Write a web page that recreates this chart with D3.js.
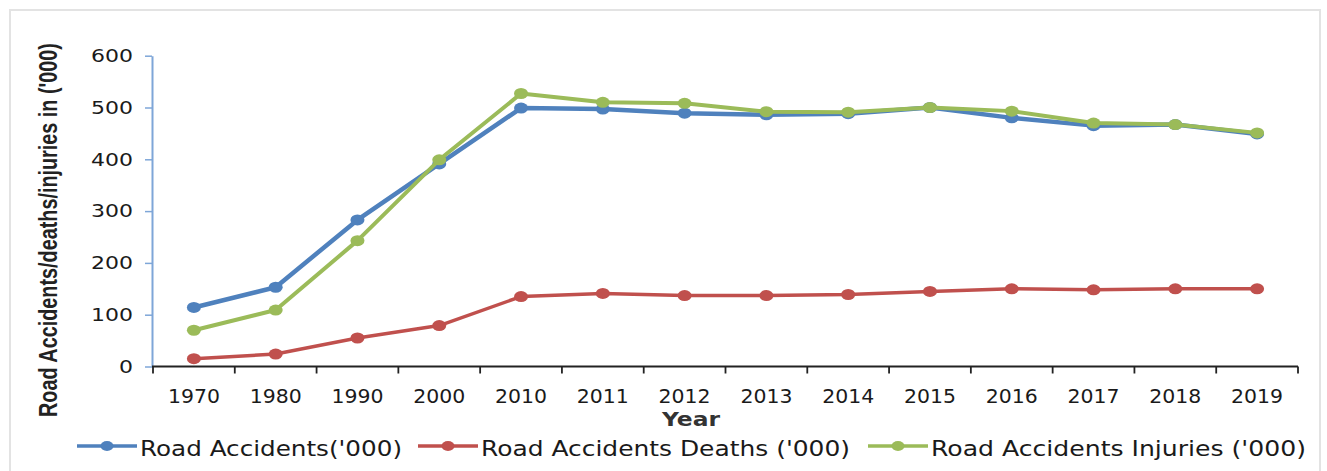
<!DOCTYPE html>
<html>
<head>
<meta charset="utf-8">
<script src="https://cdn.jsdelivr.net/npm/d3@7"></script>
<style>
  body { margin: 0; background: #fff; }
  svg { display: block; }
</style>
</head>
<body>
<svg id="chart" width="1327" height="471"></svg>
<script>
// chart values
const years = ["1970", "1980", "1990", "2000", "2010", "2011", "2012", "2013", "2014", "2015", "2016", "2017", "2018", "2019"];
const accidents = [114, 153, 283, 391, 499, 497, 489, 486, 488, 500, 480, 465, 467, 449];
const deaths = [15, 24, 55, 79, 135, 141, 137, 137, 139, 145, 150, 148, 150, 150];
const injuries = [70, 109, 243, 399, 527, 510, 508, 492, 491, 500, 493, 470, 467, 451];
const yTicks = [0, 100, 200, 300, 400, 500, 600];
const seriesNames = ["Road Accidents('000)", "Road Accidents Deaths ('000)", "Road Accidents Injuries ('000)"];

const colors = ["#4f81bd", "#c0504d", "#9bbb59"];
const widths = [4.5, 3.5, 4];

let svg = d3.select("#chart");

// light frame round the chart
svg.append("rect")
    .attr("x", 10).attr("y", 10)
    .attr("width", 1310).attr("height", 470)
    .attr("fill", "none").attr("stroke", "#e3e3e3").attr("stroke-width", 2);

let x = d3.scaleBand().domain(years).range([153, 1298]).padding(0);
let y = d3.scaleLinear().domain([0, 600]).range([366.5, 55.7]);

// y axis
let yg = svg.append("g").attr("transform", "translate(152,0)")
    .call(d3.axisLeft(y).tickValues(yTicks).tickSize(7).tickPadding(12).tickSizeOuter(0));
yg.select(".domain").attr("stroke", "#7ea6d8").attr("stroke-width", 2);
yg.selectAll(".tick line").attr("stroke", "#7ea6d8").attr("stroke-width", 1.5);
yg.selectAll(".tick text")
    .attr("font-family", "DejaVu Sans, Verdana, sans-serif")
    .attr("font-size", 18)
    .attr("fill", "#1a1a1a")
    .attr("x", -19)
    .attr("textLength", d => String(d).length * 14)
    .attr("lengthAdjust", "spacingAndGlyphs");

// x axis, ticks between the categories
let xg = svg.append("g").attr("transform", "translate(0,366.5)");
xg.append("line")
    .attr("x1", 152).attr("x2", 1298)
    .attr("stroke", "#222").attr("stroke-width", 1.8);
let bounds = years.map(d => x(d)).concat([x(years[years.length - 1]) + x.bandwidth()]);
xg.selectAll(".xtick").data(bounds).join("line")
    .attr("class", "xtick")
    .attr("x1", d => d).attr("x2", d => d)
    .attr("y1", 0).attr("y2", 7)
    .attr("stroke", "#222").attr("stroke-width", 1.8);
xg.selectAll(".xlab").data(years).join("text")
    .attr("class", "xlab")
    .attr("x", d => x(d) + x.bandwidth() / 2)
    .attr("y", 36)
    .attr("text-anchor", "middle")
    .attr("font-family", "DejaVu Sans, Verdana, sans-serif")
    .attr("font-size", 19)
    .attr("fill", "#1a1a1a")
    .attr("textLength", 52)
    .attr("lengthAdjust", "spacingAndGlyphs")
    .text(d => d);

// axis titles
svg.append("text")
    .attr("x", 691).attr("y", 426)
    .attr("text-anchor", "middle")
    .attr("font-family", "DejaVu Sans, Verdana, sans-serif")
    .attr("font-weight", "bold")
    .attr("font-size", 20)
    .attr("fill", "#333")
    .attr("textLength", 58)
    .attr("lengthAdjust", "spacingAndGlyphs")
    .text("Year");

// y title: squeeze along its length to fit the 374px it takes in the picture
let yTitle = svg.append("text")
    .attr("text-anchor", "middle")
    .attr("font-family", "Liberation Sans Narrow, Arial Narrow, Liberation Sans, sans-serif")
    .attr("font-weight", "bold")
    .attr("font-size", 26)
    .attr("fill", "#222")
    .text("Road Accidents/deaths/injuries in ('000)");
let natural = yTitle.node().getComputedTextLength();
yTitle.attr("transform", `translate(57,230) rotate(-90) scale(${374 / natural},1)`);

// lines and markers
let allSeries = [accidents, deaths, injuries];
let line = d3.line()
    .x((d, i) => x(years[i]) + x.bandwidth() / 2)
    .y(d => y(d));

allSeries.forEach((vals, k) => {
    let g = svg.append("g");
    g.append("path")
        .datum(vals)
        .attr("d", line)
        .attr("fill", "none")
        .attr("stroke", colors[k])
        .attr("stroke-width", widths[k])
        .attr("stroke-linejoin", "round");
    g.selectAll("ellipse").data(vals).join("ellipse")
        .attr("cx", (d, i) => x(years[i]) + x.bandwidth() / 2)
        .attr("cy", d => y(d))
        .attr("rx", 7).attr("ry", 5.5)
        .attr("fill", colors[k]);
});

// legend
let legendX = [77, 418, 868];
let legendLen = [262, 369, 375];
let leg = svg.append("g").attr("transform", "translate(0,446)");
seriesNames.forEach((name, k) => {
    let lx = legendX[k];
    leg.append("line")
        .attr("x1", lx).attr("x2", lx + 60)
        .attr("stroke", colors[k]).attr("stroke-width", 3.5);
    leg.append("ellipse")
        .attr("cx", lx + 30).attr("cy", 0)
        .attr("rx", 6.5).attr("ry", 5)
        .attr("fill", colors[k]);
    leg.append("text")
        .attr("x", lx + 63).attr("y", 10)
        .attr("font-family", "DejaVu Sans, Verdana, sans-serif")
        .attr("font-size", 22)
        .attr("fill", "#1a1a1a")
        .attr("textLength", legendLen[k])
        .attr("lengthAdjust", "spacingAndGlyphs")
        .text(name);
});
</script>
</body>
</html>
